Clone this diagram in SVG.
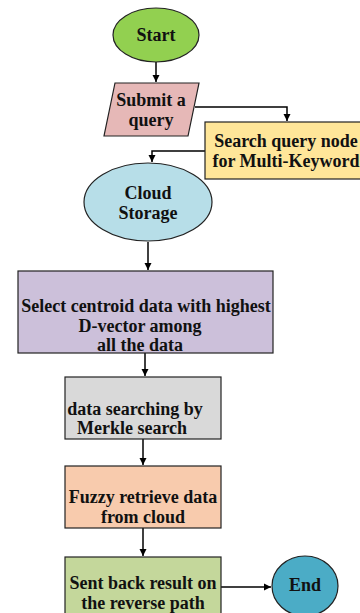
<svg xmlns="http://www.w3.org/2000/svg" width="360" height="613" viewBox="0 0 360 613">
<defs>
<marker id="ah" markerWidth="8" markerHeight="8" refX="7" refY="4" orient="auto" markerUnits="userSpaceOnUse">
<path d="M0,0.5 L7,4 L0,7.5 Z" fill="#000"/>
</marker>
<style>
.n{stroke:#222;stroke-width:1.2}
.t{font-family:"Liberation Serif","Times New Roman",serif;font-weight:bold;font-size:18px;fill:#111;text-anchor:middle;dominant-baseline:central}
.c{fill:none;stroke:#000;stroke-width:1.5;marker-end:url(#ah)}
</style>
</defs>
<rect width="360" height="613" fill="#fff"/>
<g id="connectors">
<path class="c" d="M156,62 L156,82"/>
<path class="c" d="M195,107 L287,107 L287,121"/>
<path class="c" d="M205,151 L152,151 L152,162"/>
<path class="c" d="M148,242 L148,270"/>
<path class="c" d="M145,353 L145,376"/>
<path class="c" d="M143,439 L143,465"/>
<path class="c" d="M143,528 L143,556"/>
<path class="c" d="M221,587 L271,587"/>
</g>
<g id="start">
<ellipse class="n" cx="156" cy="35" rx="43" ry="27" fill="#92d050"/>
<text class="t" x="156" y="35">Start</text>
</g>
<g id="submit">
<polygon class="n" points="115,83 199,83 188,136 104,136" fill="#e6b8b7"/>
<text class="t" x="151" y="100">Submit a</text>
<text class="t" x="151" y="120">query</text>
</g>
<g id="search">
<rect class="n" x="205" y="122" width="165" height="57" fill="#ffe699"/>
<text class="t" x="286" y="141">Search query node</text>
<text class="t" x="286" y="161">for Multi-Keyword</text>
</g>
<g id="cloud">
<ellipse class="n" cx="148" cy="202" rx="64" ry="39" fill="#b7dee8"/>
<text class="t" x="148" y="193">Cloud</text>
<text class="t" x="148" y="213">Storage</text>
</g>
<g id="select">
<rect class="n" x="18" y="271" width="255" height="82" fill="#ccc0da"/>
<text class="t" x="146" y="306">Select centroid data with highest</text>
<text class="t" x="140" y="326">D-vector among</text>
<text class="t" x="140" y="345">all the data</text>
</g>
<g id="merkle">
<rect class="n" x="65" y="377" width="156" height="62" fill="#d9d9d9"/>
<text class="t" x="135" y="409">data searching by</text>
<text class="t" x="132" y="428">Merkle search</text>
</g>
<g id="fuzzy">
<rect class="n" x="65" y="466" width="156" height="62" fill="#f8cbad"/>
<text class="t" x="143" y="497">Fuzzy retrieve data</text>
<text class="t" x="143" y="517">from cloud</text>
</g>
<g id="sent">
<rect class="n" x="65" y="557" width="156" height="70" fill="#c4d79b"/>
<text class="t" x="143" y="583">Sent back result on</text>
<text class="t" x="143" y="603">the reverse path</text>
</g>
<g id="end">
<ellipse class="n" cx="305" cy="586" rx="33" ry="30" fill="#4bacc6"/>
<text class="t" x="305" y="585">End</text>
</g>
</svg>
